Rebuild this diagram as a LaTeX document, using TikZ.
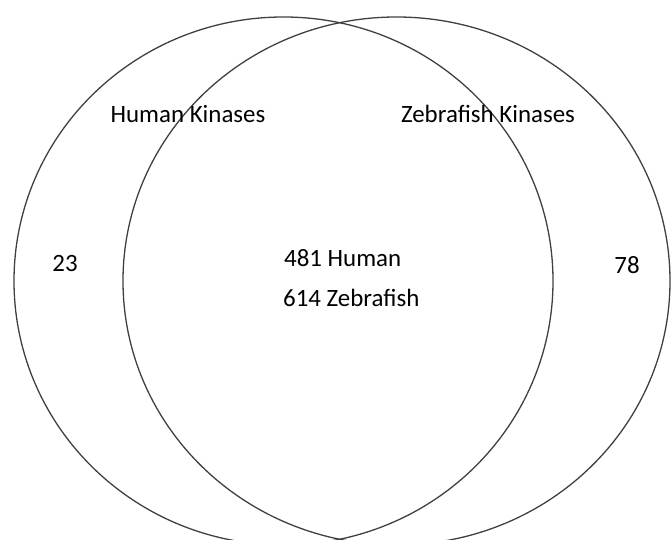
\documentclass[tikz,border=0pt]{standalone}
\usepackage{fontspec}
\setmainfont{Carlito}
\begin{document}
\begin{tikzpicture}[x=1bp, y=-1bp,
  set/.style = {draw=black!75, line width=1.3bp},
  every node/.style = {font=\fontsize{25}{30}\selectfont, inner sep=0pt}]
  \useasboundingbox (0,0) rectangle (672,540);
  \clip (0,0) rectangle (672,540);
  \draw[set] (283.5,281) ellipse [x radius=269.5, y radius=264];
  \draw[set] (396.5,281) ellipse [x radius=273.5, y radius=264];
  \node (human) at (188,114) {Human Kinases};
  \node (zebra) at (488,114) {Zebrafish Kinases};
  \node (onlyh) at (65,264) {23};
  \node (onlyz) at (627,265) {78};
  \node[anchor=west] (bothh) at (284,258) {481 Human};
  \node[anchor=west] (bothz) at (283,298) {614 Zebrafish};
\end{tikzpicture}
\end{document}
